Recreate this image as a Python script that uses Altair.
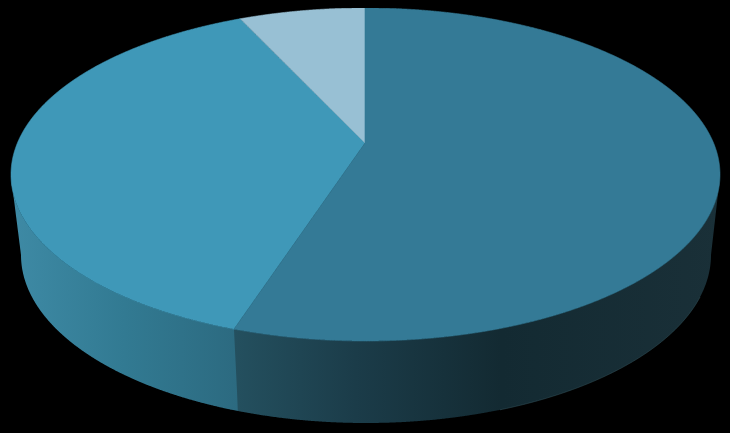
import numpy as np
import pandas as pd
import altair as alt

# Shares of the pie, clockwise from 12 o'clock, and colours of the top faces
slices = ["A", "B", "C"]
shares = [56.05, 38.2, 5.75]
top_colors = ["#347a96", "#3f98b8", "#98c0d4"]

# Reference geometry of the tilted disc (image pixels)
CX, CY, RX, RY = 365.5, 174.5, 354.5, 166.5      # top rim
BX, BY, BRX, BRY = 366.0, 255.0, 345.0, 168.0    # bottom rim
VX, VY = 365.0, 143.0                            # perspective centre of the pie


def rim_point(frac):
    a = 2 * np.pi * frac
    return CX + RX * np.sin(a), CY - RY * np.cos(a)


def up(x):
    return CY - RY * np.sqrt(np.clip(1 - ((x - CX) / RX) ** 2, 0, 1))


def low(x):
    return CY + RY * np.sqrt(np.clip(1 - ((x - CX) / RX) ** 2, 0, 1))


def bottom(x):
    return BY + BRY * np.sqrt(np.clip(1 - ((x - BX) / BRX) ** 2, 0, 1))


def seg(x, p, q):
    return p[1] + (x - p[0]) * (q[1] - p[1]) / (q[0] - p[0])


def grid(a, b, *extra):
    t = np.linspace(0, np.pi, 721)
    xs = CX - RX * np.cos(t)
    xb = BX - BRX * np.cos(t)
    xs = np.concatenate([xs, xb, np.linspace(a, b, 200), extra, [a, b]])
    return np.unique(xs[(xs >= a) & (xs <= b)])


P1 = rim_point(shares[0] / 100)
P2 = rim_point((shares[0] + shares[1]) / 100)
V = (VX, VY)
L1, L2 = (CX - RX, CY + 2), (BX - BRX, BY)
R1, R2 = (CX + RX, CY + 2), (BX + BRX, BY)
B1 = (P1[0] + 4, bottom(P1[0] + 4))

# Top faces
x = grid(P1[0], CX + RX, VX, VX + 0.01)
dark = pd.DataFrame({"x": x, "y": np.where(x <= VX, seg(x, P1, V), up(x)), "y2": low(x)})
dark["s"] = slices[0]

x = grid(CX - RX, VX, P1[0], P2[0])
mid = pd.DataFrame({
    "x": x,
    "y": np.where(x <= P2[0], up(x), seg(x, P2, V)),
    "y2": np.where(x <= P1[0], low(x), seg(x, P1, V)),
})
mid["s"] = slices[1]

x = grid(P2[0], VX)
light = pd.DataFrame({"x": x, "y": up(x), "y2": seg(x, P2, V)})
light["s"] = slices[2]

# Side walls
x = grid(L1[0], B1[0], L2[0])
side_l = pd.DataFrame({"x": x, "y": low(x), "y2": np.where(x <= L2[0], seg(x, L1, L2), bottom(x))})

x = grid(P1[0], R1[0], B1[0], R2[0])
y2 = np.where(x <= B1[0], seg(x, P1, B1), np.where(x >= R2[0], seg(x, R1, R2), bottom(x)))
side_r = pd.DataFrame({"x": x, "y": low(x), "y2": y2})

# Faint light edge along the lower right of the bottom rim
x = grid(500, 700)
glint = pd.DataFrame({"x": x, "y": bottom(x)})

xs = alt.X("x:Q", axis=None, scale=alt.Scale(domain=[8, 722], nice=False, zero=False))
ys = alt.Y("y:Q", axis=None, scale=alt.Scale(domain=[8, 425], reverse=True, nice=False, zero=False))


def wall(df, stops):
    grad = alt.Gradient(
        gradient="linear", x1=0, x2=1, y1=0, y2=0,
        stops=[alt.GradientStop(offset=o, color=c) for o, c in stops],
    )
    return alt.Chart(df).mark_area(color=grad).encode(x=xs, y=ys, y2="y2:Q")


def face(df):
    return alt.Chart(df).mark_area(strokeWidth=0.6).encode(
        x=xs, y=ys, y2="y2:Q",
        color=alt.Color("s:N", legend=None, scale=alt.Scale(domain=slices, range=top_colors)),
        stroke=alt.Stroke("s:N", legend=None, scale=alt.Scale(domain=slices, range=top_colors)),
    )


chart = alt.layer(
    wall(side_l, [(0, "#3e8aa5"), (0.5, "#327a92"), (1, "#2c6a80")]),
    wall(side_r, [(0, "#24505f"), (0.25, "#1b3c49"), (0.55, "#132a32"), (1, "#1a3038")]),
    alt.Chart(glint).mark_line(color="#34525a", strokeWidth=0.6).encode(x=xs, y=ys),
    face(mid),
    face(light),
    face(dark),
).properties(
    width=714,
    height=417,
    padding=0,
    background="#000000",
    autosize=alt.AutoSizeParams(type="none"),
).configure_view(stroke=None)

chart.save("out.html", embed_options={"renderer": "svg", "actions": False, "defaultStyle": "html,body{background:#000;overflow:hidden}"})
